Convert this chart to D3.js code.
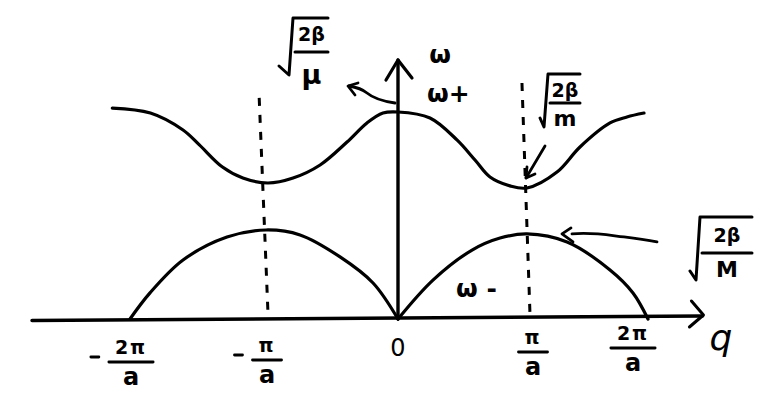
<!DOCTYPE html>
<html><head><meta charset="utf-8">
<script src="https://cdn.jsdelivr.net/npm/d3@7"></script>
<style>body{margin:0;background:#fff}svg{display:block}</style>
</head><body><svg id="c" width="773" height="402"></svg>
<script>
// ---- data (q in units of π/a, ω normalised so ω+(0) = 1) ----
const tickQ = [-2, -1, 0, 1, 2];
const tickSign = ["-", "-", "", "", ""];
const tickNumer = ["2π", "π", "0", "π", "2π"];
const tickDenom = ["a", "a", "", "a", "a"];

const qUpper = [-2.13, -1.85, -1.61, -1.49, -1.32, -1.17, -0.985, -0.795, -0.59, -0.386, -0.235, -0.114, 0,
                0.248, 0.457, 0.597, 0.713, 0.868, 1.0, 1.248, 1.438, 1.686, 1.826, 1.967];
const omegaUpper = [1.019, 0.995, 0.913, 0.841, 0.734, 0.681, 0.657, 0.681, 0.744, 0.855, 0.947, 0.995, 1.0,
                    0.971, 0.865, 0.768, 0.686, 0.643, 0.633, 0.710, 0.831, 0.947, 0.976, 0.995];

const qLowerLeft = [-2, -1.853, -1.61, -1.287, -1.0, -0.742, -0.439, -0.189, 0];
const omegaLowerLeft = [0, 0.126, 0.285, 0.396, 0.430, 0.406, 0.300, 0.174, 0];
const qLowerRight = [0, 0.271, 0.574, 0.791, 1.0, 1.331, 1.686, 1.876, 2.0];
const omegaLowerRight = [0, 0.188, 0.333, 0.391, 0.411, 0.372, 0.237, 0.126, 0];

const dashQTop = [-1.05, 0.961];
const dashOmegaTop = [1.068, 1.14];
const dashQBottom = [-0.985, 1.025];
const dashOmegaBottom = [0.029, 0.019];

const axisQ = [-2.72, 2.45];
const axisOmegaTop = 1.251;

// ---- layout ----
const svg = d3.select("#c");
const x = d3.scaleLinear().domain(tickQ).range([130, 266, 398, 527, 648]);
const y = d3.scaleLinear().domain([0, 1]).range([319, 112]);
const FONT = "'DejaVu Sans', sans-serif";
const ink = "#000";

const line = d3.line().x(d => x(d[0])).y(d => y(d[1])).curve(d3.curveCatmullRom.alpha(0.5));
const g = svg.append("g").attr("fill", "none").attr("stroke", ink).attr("stroke-linecap", "round").attr("stroke-linejoin", "round");

// horizontal axis
const x0 = x(axisQ[0]), x1 = x(axisQ[1]);
g.append("path").attr("stroke-width", 3.6)
  .attr("d", `M${x0},${y(0) + 1.5}L${x1},${y(0) - 3}`);
g.append("path").attr("stroke-width", 3)
  .attr("d", `M${x1 - 11},${y(0) - 18}L${x1 + 1},${y(0) - 4}L${x1 - 13},${y(0) + 8}`);

// vertical axis
const yt = y(axisOmegaTop);
g.append("path").attr("stroke-width", 3.4).attr("d", `M${x(0)},${y(0)}L${x(0)},${yt}`);
g.append("path").attr("stroke-width", 3.2)
  .attr("d", `M${x(0) - 12},${yt + 20}L${x(0)},${yt}L${x(0) + 14},${yt + 18}`);

// dispersion curves
g.append("path").attr("stroke-width", 3.2).attr("d", line(qUpper.map((q, i) => [q, omegaUpper[i]])));
g.append("path").attr("stroke-width", 3.2).attr("d", line(qLowerLeft.map((q, i) => [q, omegaLowerLeft[i]])));
g.append("path").attr("stroke-width", 3.2).attr("d", line(qLowerRight.map((q, i) => [q, omegaLowerRight[i]])));

// dashed zone-boundary lines
dashQTop.forEach((qt, i) => {
  g.append("path").attr("stroke-width", 3).attr("stroke-dasharray", "8 9").attr("stroke-linecap", "butt")
    .attr("d", `M${x(qt)},${y(dashOmegaTop[i])}L${x(dashQBottom[i])},${y(dashOmegaBottom[i])}`);
});

// annotation arrows (anchored on data points, shapes in px offsets)
{
  const ax = x(0) - 3, ay = y(1) - 9;
  g.append("path").attr("stroke-width", 2.8)
    .attr("d", `M${ax},${ay} C${ax - 14},${ay - 2} ${ax - 22},${ay - 5} ${ax - 28},${ay - 10} S${ax - 40},${ay - 16} ${ax - 46},${ay - 17}`);
  g.append("path").attr("stroke-width", 2.8)
    .attr("d", `M${ax - 37},${ay - 20}L${ax - 47},${ay - 17}L${ax - 40},${ay - 8}`);
}
{
  const tx = x(1) - 1, ty = y(0.633) - 10;
  g.append("path").attr("stroke-width", 2.8).attr("d", `M${tx + 19},${ty - 32}L${tx},${ty}`);
  g.append("path").attr("stroke-width", 2.8).attr("d", `M${tx + 1},${ty - 11}L${tx},${ty}L${tx + 9},${ty - 4}`);
}
{
  const tx = x(1) + 35, ty = y(0.411);
  g.append("path").attr("stroke-width", 2.8)
    .attr("d", `M${tx + 10},${ty} C${tx + 30},${ty - 2} ${tx + 45},${ty + 1} ${tx + 62},${ty + 3} S${tx + 85},${ty + 6} ${tx + 95},${ty + 8}`);
  g.append("path").attr("stroke-width", 2.8)
    .attr("d", `M${tx + 9},${ty - 6}L${tx},${ty}L${tx + 11},${ty + 8}`);
}

// tick labels
const nudgeX = [1, 1, 0, 6, -15];
const nudgeY = [6, 4, 0, -4, -8];
const T = svg.append("g").attr("fill", ink).attr("font-family", FONT).attr("font-weight", "bold");
tickQ.forEach((q, i) => {
  const cx = x(q) + nudgeX[i], dy = nudgeY[i];
  if (!tickDenom[i]) {
    T.append("text").attr("x", cx).attr("y", 348).attr("text-anchor", "middle")
      .attr("dominant-baseline", "central").attr("font-size", 24).attr("font-weight", "normal").text(tickNumer[i]);
    return;
  }
  const num = T.append("text").attr("x", cx).attr("y", 341 + dy).attr("text-anchor", "middle")
    .attr("dominant-baseline", "central").attr("font-size", 19).attr("letter-spacing", 2).text(tickNumer[i]);
  const w = num.node().getComputedTextLength();
  const half = w / 2 + 6;
  g.append("path").attr("stroke-width", 2.8).attr("d", `M${cx - half},${356 + dy}L${cx + half},${356 + dy}`);
  T.append("text").attr("x", cx).attr("y", 371 + dy).attr("text-anchor", "middle")
    .attr("dominant-baseline", "central").attr("font-size", 24).text(tickDenom[i]);
  if (tickSign[i]) {
    g.append("path").attr("stroke-width", 2.8)
      .attr("d", `M${cx - half - 18},${353 + dy - 2}L${cx - half - 10},${353 + dy - 2}`);
  }
});
T.append("text").attr("x", 721).attr("y", 350).attr("text-anchor", "middle")
  .attr("font-size", 36).attr("font-weight", "normal").attr("font-style", "italic").text("q");

// ω labels
T.append("text").attr("x", 440).attr("y", 63).attr("text-anchor", "middle").attr("font-size", 25).text("ω");
T.append("text").attr("x", 427).attr("y", 102).attr("font-size", 25).text("ω+");
T.append("text").attr("x", 456).attr("y", 297).attr("font-size", 25).text("ω -");

// radical labels √(2β / X)
function radical(ox, oy, barW, h, checkDx, numDy, lineDy, den, denDy, denSize) {
  g.append("path").attr("stroke-width", 3)
    .attr("d", `M${ox + checkDx},${oy + h - 9}L${ox - 4},${oy + h}L${ox},${oy}L${ox + barW},${oy}`);
  T.append("text").attr("x", ox + barW / 2 + 1).attr("y", oy + numDy).attr("text-anchor", "middle")
    .attr("dominant-baseline", "central").attr("font-size", 19).text("2β");
  g.append("path").attr("stroke-width", 3).attr("d", `M${ox + 2},${oy + lineDy}L${ox + barW},${oy + lineDy}`);
  T.append("text").attr("x", ox + barW / 2 + 1).attr("y", oy + denDy).attr("text-anchor", "middle")
    .attr("dominant-baseline", "central").attr("font-size", denSize).text(den);
}
radical(293, 18, 35, 57, -14, 16, 34, "μ", 56, 27);
radical(548, 74, 32, 53, -8, 16, 29, "m", 44, 22);
radical(700, 217, 52, 63, -10, 18, 36, "M", 52, 22);
</script></body></html>
